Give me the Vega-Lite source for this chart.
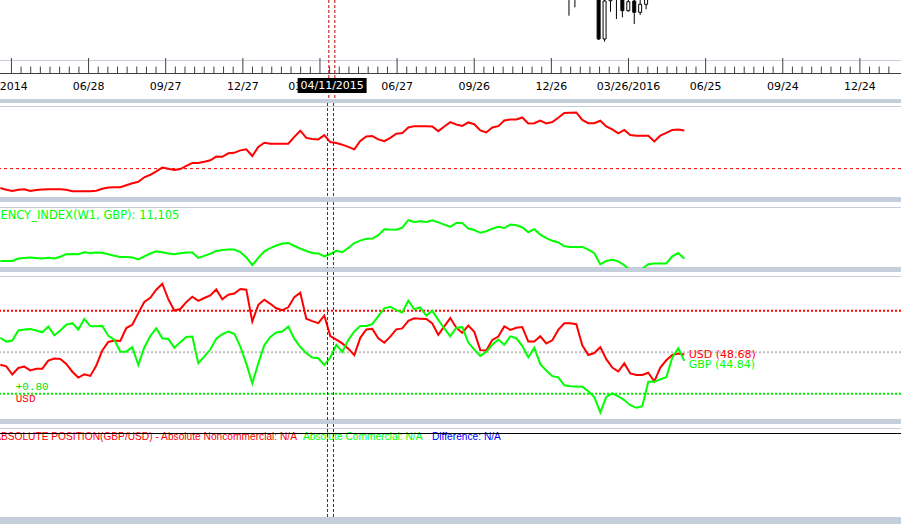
{
"$schema": "https://vega.github.io/schema/vega-lite/v6.json",
"background": "#c4cfdb",
"padding": {"left": 0, "top": 0, "right": 0, "bottom": 6},
"spacing": 4,
"bounds": "flush",
"config": {"view": {"fill": "#ffffff", "stroke": null}},
"resolve": {"scale": {"x": "independent", "y": "independent", "color": "independent"}},
"datasets": {
"one": [{"n": 1}],
"x": [{"date": "2015-04-11", "label": "04/11/2015"}],
"maj": [
{"t": 1396051200000, "label": "03/29/2014"},
{"t": 1403913600000, "label": "06/28"},
{"t": 1411776000000, "label": "09/27"},
{"t": 1419638400000, "label": "12/27"},
{"t": 1427500800000, "label": "03/28/2015"},
{"t": 1435363200000, "label": "06/27"},
{"t": 1443225600000, "label": "09/26"},
{"t": 1451088000000, "label": "12/26"},
{"t": 1458950400000, "label": "03/26/2016"},
{"t": 1466812800000, "label": "06/25"},
{"t": 1474675200000, "label": "09/24"},
{"t": 1482537600000, "label": "12/24"}
],
"min": [
{"t":1397034000000},{"t":1398016800000},{"t":1398999600000},{"t":1399982400000},{"t":1400965200000},{"t":1401948000000},{"t":1402930800000},
{"t":1404896400000},{"t":1405879200000},{"t":1406862000000},{"t":1407844800000},{"t":1408827600000},{"t":1409810400000},{"t":1410793200000},
{"t":1412758800000},{"t":1413741600000},{"t":1414724400000},{"t":1415707200000},{"t":1416690000000},{"t":1417672800000},{"t":1418655600000},
{"t":1420621200000},{"t":1421604000000},{"t":1422586800000},{"t":1423569600000},{"t":1424552400000},{"t":1425535200000},{"t":1426518000000},
{"t":1428483600000},{"t":1429466400000},{"t":1430449200000},{"t":1431432000000},{"t":1432414800000},{"t":1433397600000},{"t":1434380400000},
{"t":1436346000000},{"t":1437328800000},{"t":1438311600000},{"t":1439294400000},{"t":1440277200000},{"t":1441260000000},{"t":1442242800000},
{"t":1444208400000},{"t":1445191200000},{"t":1446174000000},{"t":1447156800000},{"t":1448139600000},{"t":1449122400000},{"t":1450105200000},
{"t":1452070800000},{"t":1453053600000},{"t":1454036400000},{"t":1455019200000},{"t":1456002000000},{"t":1456984800000},{"t":1457967600000},
{"t":1459933200000},{"t":1460916000000},{"t":1461898800000},{"t":1462881600000},{"t":1463864400000},{"t":1464847200000},{"t":1465830000000},
{"t":1467795600000},{"t":1468778400000},{"t":1469761200000},{"t":1470744000000},{"t":1471726800000},{"t":1472709600000},{"t":1473692400000},
{"t":1475658000000},{"t":1476640800000},{"t":1477623600000},{"t":1478606400000},{"t":1479589200000},{"t":1480572000000},{"t":1481554800000},
{"t":1483520400000},{"t":1484503200000},{"t":1485486000000}
],
"ends": [{"date": "2016-05-28", "ccy": "USD", "val": 48.68, "label": "USD (48.68)"}, {"date": "2016-05-28", "ccy": "GBP", "val": 44.84, "label": "GBP (44.84)"}],
"c": [
{"date": "2016-01-16", "open": 1.4400, "high": 1.4420, "low": 1.4093, "close": 1.4265},
{"date": "2016-01-23", "open": 1.4265, "high": 1.4410, "low": 1.4177, "close": 1.4290},
{"date": "2016-01-30", "open": 1.4290, "high": 1.4668, "low": 1.4270, "close": 1.4420},
{"date": "2016-02-06", "open": 1.4420, "high": 1.4600, "low": 1.4400, "close": 1.4490},
{"date": "2016-02-13", "open": 1.4490, "high": 1.4510, "low": 1.4300, "close": 1.4400},
{"date": "2016-02-20", "open": 1.4400, "high": 1.4440, "low": 1.3850, "close": 1.3860},
{"date": "2016-02-27", "open": 1.3860, "high": 1.4262, "low": 1.3833, "close": 1.4240},
{"date": "2016-03-05", "open": 1.4242, "high": 1.4350, "low": 1.4133, "close": 1.4300},
{"date": "2016-03-12", "open": 1.4300, "high": 1.4460, "low": 1.4060, "close": 1.4370},
{"date": "2016-03-19", "open": 1.4370, "high": 1.4380, "low": 1.4077, "close": 1.4143},
{"date": "2016-03-26", "open": 1.4143, "high": 1.4300, "low": 1.4133, "close": 1.4233},
{"date": "2016-04-02", "open": 1.4240, "high": 1.4300, "low": 1.4010, "close": 1.4127},
{"date": "2016-04-09", "open": 1.4127, "high": 1.4260, "low": 1.4100, "close": 1.4207},
{"date": "2016-04-16", "open": 1.4207, "high": 1.4450, "low": 1.4157, "close": 1.4300},
{"date": "2016-04-23", "open": 1.4300, "high": 1.4590, "low": 1.4280, "close": 1.4580},
{"date": "2016-04-30", "open": 1.4580, "high": 1.4770, "low": 1.4460, "close": 1.4500},
{"date": "2016-05-07", "open": 1.4500, "high": 1.4530, "low": 1.4330, "close": 1.4420},
{"date": "2016-05-14", "open": 1.4420, "high": 1.4520, "low": 1.4330, "close": 1.4500},
{"date": "2016-05-21", "open": 1.4500, "high": 1.4690, "low": 1.4400, "close": 1.4600},
{"date": "2016-05-28", "open": 1.4600, "high": 1.4670, "low": 1.4330, "close": 1.4380}
],
"w": [
{"date": "2014-03-22", "u2": 9612, "g3": 10967, "u4": 42.53, "g4": 58.67},
{"date": "2014-03-29", "u2": 9576, "g3": 10967, "u4": 41.51, "g4": 56.39},
{"date": "2014-04-05", "u2": 9552, "g3": 10967, "u4": 36.63, "g4": 57.05},
{"date": "2014-04-12", "u2": 9576, "g3": 11015, "u4": 40.54, "g4": 63.13},
{"date": "2014-04-19", "u2": 9586, "g3": 11025, "u4": 41.39, "g4": 63.61},
{"date": "2014-04-26", "u2": 9552, "g3": 11033, "u4": 39.1, "g4": 63.98},
{"date": "2014-05-03", "u2": 9572, "g3": 11027, "u4": 40.06, "g4": 63.01},
{"date": "2014-05-10", "u2": 9582, "g3": 11017, "u4": 40.12, "g4": 61.99},
{"date": "2014-05-17", "u2": 9586, "g3": 11029, "u4": 44.94, "g4": 65.48},
{"date": "2014-05-24", "u2": 9586, "g3": 11017, "u4": 46.2, "g4": 60.12},
{"date": "2014-05-31", "u2": 9586, "g3": 11051, "u4": 46.02, "g4": 63.07},
{"date": "2014-06-07", "u2": 9576, "g3": 11101, "u4": 42.95, "g4": 66.57},
{"date": "2014-06-14", "u2": 9546, "g3": 11107, "u4": 38.31, "g4": 67.47},
{"date": "2014-06-21", "u2": 9546, "g3": 11101, "u4": 34.82, "g4": 63.67},
{"date": "2014-06-28", "u2": 9546, "g3": 11139, "u4": 36.75, "g4": 69.94},
{"date": "2014-07-05", "u2": 9546, "g3": 11127, "u4": 35.78, "g4": 65.72},
{"date": "2014-07-12", "u2": 9556, "g3": 11135, "u4": 42.05, "g4": 65.6},
{"date": "2014-07-19", "u2": 9596, "g3": 11131, "u4": 51.08, "g4": 65.84},
{"date": "2014-07-26", "u2": 9620, "g3": 11101, "u4": 56.2, "g4": 59.82},
{"date": "2014-08-02", "u2": 9626, "g3": 11069, "u4": 56.99, "g4": 57.59},
{"date": "2014-08-09", "u2": 9626, "g3": 11047, "u4": 56.81, "g4": 50.36},
{"date": "2014-08-16", "u2": 9666, "g3": 11047, "u4": 64.52, "g4": 50.36},
{"date": "2014-08-23", "u2": 9706, "g3": 11037, "u4": 66.51, "g4": 53.07},
{"date": "2014-08-30", "u2": 9736, "g3": 10997, "u4": 73.49, "g4": 42.35},
{"date": "2014-09-06", "u2": 9826, "g3": 11057, "u4": 80.24, "g4": 52.89},
{"date": "2014-09-13", "u2": 9876, "g3": 11115, "u4": 82.71, "g4": 59.76},
{"date": "2014-09-20", "u2": 9946, "g3": 11157, "u4": 87.59, "g4": 64.4},
{"date": "2014-09-27", "u2": 10020, "g3": 11139, "u4": 91.14, "g4": 58.37},
{"date": "2014-10-04", "u2": 9996, "g3": 11115, "u4": 81.93, "g4": 58.01},
{"date": "2014-10-11", "u2": 9972, "g3": 11099, "u4": 75.06, "g4": 52.77},
{"date": "2014-10-18", "u2": 9990, "g3": 11121, "u4": 75.96, "g4": 56.02},
{"date": "2014-10-25", "u2": 10056, "g3": 11137, "u4": 80.12, "g4": 59.22},
{"date": "2014-11-01", "u2": 10112, "g3": 11137, "u4": 83.31, "g4": 59.4},
{"date": "2014-11-08", "u2": 10112, "g3": 11027, "u4": 80.9, "g4": 43.43},
{"date": "2014-11-15", "u2": 10136, "g3": 11067, "u4": 82.59, "g4": 47.35},
{"date": "2014-11-22", "u2": 10166, "g3": 11111, "u4": 84.16, "g4": 51.63},
{"date": "2014-11-29", "u2": 10242, "g3": 11167, "u4": 87.71, "g4": 58.19},
{"date": "2014-12-06", "u2": 10236, "g3": 11185, "u4": 81.81, "g4": 60.9},
{"date": "2014-12-13", "u2": 10306, "g3": 11195, "u4": 84.52, "g4": 62.41},
{"date": "2014-12-20", "u2": 10316, "g3": 11193, "u4": 85.3, "g4": 61.14},
{"date": "2014-12-27", "u2": 10366, "g3": 11145, "u4": 88.01, "g4": 53.43},
{"date": "2015-01-03", "u2": 10386, "g3": 11037, "u4": 87.59, "g4": 43.13},
{"date": "2015-01-10", "u2": 10252, "g3": 10881, "u4": 68.43, "g4": 31.33},
{"date": "2015-01-17", "u2": 10436, "g3": 11027, "u4": 78.49, "g4": 43.37},
{"date": "2015-01-24", "u2": 10520, "g3": 11157, "u4": 81.57, "g4": 54.22},
{"date": "2015-01-31", "u2": 10500, "g3": 11221, "u4": 79.1, "g4": 59.22},
{"date": "2015-02-07", "u2": 10500, "g3": 11275, "u4": 76.39, "g4": 61.87},
{"date": "2015-02-14", "u2": 10500, "g3": 11315, "u4": 75.24, "g4": 62.41},
{"date": "2015-02-21", "u2": 10500, "g3": 11327, "u4": 76.99, "g4": 65.42},
{"date": "2015-02-28", "u2": 10636, "g3": 11265, "u4": 83.13, "g4": 58.07},
{"date": "2015-03-07", "u2": 10760, "g3": 11213, "u4": 85.78, "g4": 53.19},
{"date": "2015-03-14", "u2": 10616, "g3": 11165, "u4": 70.18, "g4": 49.4},
{"date": "2015-03-21", "u2": 10596, "g3": 11127, "u4": 68.67, "g4": 46.87},
{"date": "2015-03-28", "u2": 10586, "g3": 11117, "u4": 67.47, "g4": 46.39},
{"date": "2015-04-04", "u2": 10670, "g3": 11057, "u4": 72.05, "g4": 42.35},
{"date": "2015-04-11", "u2": 10532, "g3": 11105, "u4": 59.7, "g4": 46.81},
{"date": "2015-04-18", "u2": 10512, "g3": 11169, "u4": 57.59, "g4": 54.4},
{"date": "2015-04-25", "u2": 10480, "g3": 11141, "u4": 55.3, "g4": 50.24},
{"date": "2015-05-02", "u2": 10436, "g3": 11227, "u4": 52.17, "g4": 57.41},
{"date": "2015-05-09", "u2": 10386, "g3": 11325, "u4": 48.25, "g4": 62.47},
{"date": "2015-05-16", "u2": 10556, "g3": 11373, "u4": 58.67, "g4": 65.84},
{"date": "2015-05-23", "u2": 10646, "g3": 11409, "u4": 63.67, "g4": 65.84},
{"date": "2015-05-30", "u2": 10652, "g3": 11413, "u4": 64.04, "g4": 66.87},
{"date": "2015-06-06", "u2": 10586, "g3": 11483, "u4": 58.43, "g4": 71.75},
{"date": "2015-06-13", "u2": 10550, "g3": 11601, "u4": 55.72, "g4": 76.39},
{"date": "2015-06-20", "u2": 10616, "g3": 11593, "u4": 59.34, "g4": 77.35},
{"date": "2015-06-27", "u2": 10700, "g3": 11589, "u4": 63.73, "g4": 75.3},
{"date": "2015-07-04", "u2": 10712, "g3": 11633, "u4": 64.34, "g4": 73.86},
{"date": "2015-07-11", "u2": 10826, "g3": 11781, "u4": 68.86, "g4": 80.96},
{"date": "2015-07-18", "u2": 10852, "g3": 11745, "u4": 70.42, "g4": 75.84},
{"date": "2015-07-25", "u2": 10852, "g3": 11759, "u4": 70.18, "g4": 76.99},
{"date": "2015-08-01", "u2": 10852, "g3": 11747, "u4": 70, "g4": 71.99},
{"date": "2015-08-08", "u2": 10846, "g3": 11777, "u4": 67.29, "g4": 74.88},
{"date": "2015-08-15", "u2": 10752, "g3": 11737, "u4": 60.42, "g4": 69.46},
{"date": "2015-08-22", "u2": 10846, "g3": 11693, "u4": 65.54, "g4": 64.28},
{"date": "2015-08-29", "u2": 10932, "g3": 11649, "u4": 70.54, "g4": 59.52},
{"date": "2015-09-05", "u2": 10886, "g3": 11725, "u4": 64.76, "g4": 64.7},
{"date": "2015-09-12", "u2": 10856, "g3": 11725, "u4": 61.63, "g4": 65.06},
{"date": "2015-09-19", "u2": 10926, "g3": 11615, "u4": 66.02, "g4": 55.84},
{"date": "2015-09-26", "u2": 10890, "g3": 11585, "u4": 62.23, "g4": 51.57},
{"date": "2015-10-03", "u2": 10766, "g3": 11529, "u4": 51.27, "g4": 47.83},
{"date": "2015-10-10", "u2": 10726, "g3": 11561, "u4": 51.08, "g4": 50.24},
{"date": "2015-10-17", "u2": 10826, "g3": 11611, "u4": 57.41, "g4": 54.52},
{"date": "2015-10-24", "u2": 10852, "g3": 11651, "u4": 59.46, "g4": 57.65},
{"date": "2015-10-31", "u2": 10966, "g3": 11625, "u4": 65.48, "g4": 54.52},
{"date": "2015-11-07", "u2": 10986, "g3": 11693, "u4": 63.43, "g4": 59.52},
{"date": "2015-11-14", "u2": 10986, "g3": 11681, "u4": 64.7, "g4": 58.43},
{"date": "2015-11-21", "u2": 11026, "g3": 11641, "u4": 65.12, "g4": 53.67},
{"date": "2015-11-28", "u2": 10906, "g3": 11541, "u4": 56.39, "g4": 46.99},
{"date": "2015-12-05", "u2": 10912, "g3": 11601, "u4": 56.39, "g4": 52.65},
{"date": "2015-12-12", "u2": 10962, "g3": 11493, "u4": 59.58, "g4": 42.83},
{"date": "2015-12-19", "u2": 10906, "g3": 11421, "u4": 55.3, "g4": 38.98},
{"date": "2015-12-26", "u2": 10934, "g3": 11369, "u4": 57.17, "g4": 35.66},
{"date": "2016-01-02", "u2": 11020, "g3": 11335, "u4": 63.43, "g4": 34.94},
{"date": "2016-01-09", "u2": 11114, "g3": 11259, "u4": 67.35, "g4": 30.12},
{"date": "2016-01-16", "u2": 11122, "g3": 11247, "u4": 67.41, "g4": 29.58},
{"date": "2016-01-23", "u2": 11126, "g3": 11247, "u4": 66.87, "g4": 29.4},
{"date": "2016-01-30", "u2": 10976, "g3": 11247, "u4": 54.16, "g4": 29.28},
{"date": "2016-02-06", "u2": 10912, "g3": 11193, "u4": 48.37, "g4": 26.57},
{"date": "2016-02-13", "u2": 10912, "g3": 11121, "u4": 49.52, "g4": 23.07},
{"date": "2016-02-20", "u2": 10960, "g3": 10897, "u4": 53.01, "g4": 13.86},
{"date": "2016-02-27", "u2": 10846, "g3": 10965, "u4": 45.84, "g4": 23.13},
{"date": "2016-03-05", "u2": 10786, "g3": 10991, "u4": 40.78, "g4": 25.24},
{"date": "2016-03-12", "u2": 10706, "g3": 10957, "u4": 38.43, "g4": 23.55},
{"date": "2016-03-19", "u2": 10776, "g3": 10881, "u4": 43.31, "g4": 21.27},
{"date": "2016-03-26", "u2": 10672, "g3": 10781, "u4": 37.29, "g4": 18.19},
{"date": "2016-04-02", "u2": 10660, "g3": 10741, "u4": 36.33, "g4": 16.63},
{"date": "2016-04-09", "u2": 10660, "g3": 10811, "u4": 36.33, "g4": 17.59},
{"date": "2016-04-16", "u2": 10660, "g3": 10899, "u4": 37.71, "g4": 32.29},
{"date": "2016-04-23", "u2": 10546, "g3": 10915, "u4": 32.41, "g4": 32.29},
{"date": "2016-04-30", "u2": 10660, "g3": 10915, "u4": 40.84, "g4": 33.73},
{"date": "2016-05-07", "u2": 10716, "g3": 10915, "u4": 45.18, "g4": 34.94},
{"date": "2016-05-14", "u2": 10776, "g3": 11057, "u4": 48.37, "g4": 46.87},
{"date": "2016-05-21", "u2": 10786, "g3": 11127, "u4": 49.22, "g4": 52.41},
{"date": "2016-05-28", "u2": 10766, "g3": 11009, "u4": 48.68, "g4": 44.84}
]
},
"vconcat": [
{
"width": 901, "height": 99,
"layer": [
{"data": {"name": "one"}, "mark": {"type": "rule", "color": "#c5cdd8", "strokeWidth": 1, "clip": true},
 "encoding": {"y": {"datum": 1.3645, "scale": {"domain": [1.3645, 1.425], "range": [60.5, 0], "nice": false, "zero": false}, "axis": null}}},
{"data": {"name": "one"}, "mark": {"type": "rule", "color": "#404040", "strokeWidth": 1, "clip": true},
 "encoding": {"y": {"value": 73.5}}},
{"data": {"name": "maj"}, "mark": {"type": "rule", "color": "#404040", "strokeWidth": 1, "xOffset": 0.2, "clip": true},
 "encoding": {"x": {"field": "t", "type": "temporal", "scale": {"type": "utc", "domain": [1395416160000, 1486237200000], "nice": false}, "axis": null},
  "y": {"value": 58}, "y2": {"value": 73.5}}},
{"data": {"name": "min"}, "mark": {"type": "rule", "color": "#404040", "strokeWidth": 1, "xOffset": 0.2, "clip": true},
 "encoding": {"x": {"field": "t", "type": "temporal", "scale": {"type": "utc", "domain": [1395416160000, 1486237200000], "nice": false}, "axis": null},
  "y": {"value": 66.5}, "y2": {"value": 73.5}}},
{"data": {"name": "maj"}, "transform": [{"filter": "datum.t > 1396051200000"}],
 "mark": {"type": "text", "color": "#000000", "font": "DejaVu Sans", "fontSize": 11, "align": "center", "baseline": "middle", "dx": 0.2, "clip": true},
 "encoding": {"x": {"field": "t", "type": "temporal", "scale": {"type": "utc", "domain": [1395416160000, 1486237200000], "nice": false}, "axis": null},
  "y": {"value": 87.3}, "text": {"field": "label"}}},
{"data": {"name": "maj"}, "transform": [{"filter": "datum.t == 1396051200000"}],
 "mark": {"type": "text", "color": "#000000", "font": "DejaVu Sans", "fontSize": 11, "align": "right", "baseline": "middle", "dx": 16.4, "clip": true},
 "encoding": {"x": {"field": "t", "type": "temporal", "scale": {"type": "utc", "domain": [1395416160000, 1486237200000], "nice": false}, "axis": null},
  "y": {"value": 87.3}, "text": {"field": "label"}}},
{"data": {"name": "c"}, "mark": {"type": "rule", "color": "#000000", "strokeWidth": 1, "clip": true},
 "encoding": {
  "x": {"field": "date", "type": "temporal", "scale": {"type": "utc", "domain": [1395416160000, 1486237200000], "nice": false}, "axis": null},
  "y": {"field": "low", "type": "quantitative", "scale": {"domain": [1.3645, 1.425], "range": [60.5, 0], "nice": false, "zero": false}, "axis": null},
  "y2": {"field": "high"}}},
{"data": {"name": "c"}, "mark": {"type": "bar", "size": 3, "stroke": "#000000", "strokeWidth": 1, "clip": true},
 "encoding": {
  "x": {"field": "date", "type": "temporal", "scale": {"type": "utc", "domain": [1395416160000, 1486237200000], "nice": false}, "axis": null},
  "y": {"field": "open", "type": "quantitative", "scale": {"domain": [1.3645, 1.425], "range": [60.5, 0], "nice": false, "zero": false}, "axis": null},
  "y2": {"field": "close"},
  "fill": {"condition": {"test": "datum.close >= datum.open", "value": "#ffffff"}, "value": "#000000"}}},
{"data": {"name": "x"}, "mark": {"type": "rule", "color": "#c00000", "strokeDash": [3, 2], "strokeWidth": 1, "xOffset": -2.8, "clip": true},
 "encoding": {"x": {"field": "date", "type": "temporal", "scale": {"type": "utc", "domain": [1395416160000, 1486237200000], "nice": false}, "axis": null}}},
{"data": {"name": "x"}, "mark": {"type": "rule", "color": "#c00000", "strokeDash": [3, 2], "strokeWidth": 1, "xOffset": 3.2, "clip": true},
 "encoding": {"x": {"field": "date", "type": "temporal", "scale": {"type": "utc", "domain": [1395416160000, 1486237200000], "nice": false}, "axis": null}}},
{"data": {"name": "x"}, "mark": {"type": "rect", "color": "#000000", "xOffset": -34, "x2Offset": 35, "clip": true},
 "encoding": {"x": {"field": "date", "type": "temporal", "scale": {"type": "utc", "domain": [1395416160000, 1486237200000], "nice": false}, "axis": null},
  "x2": {"field": "date"}, "y": {"value": 78}, "y2": {"value": 93}}},
{"data": {"name": "x"}, "mark": {"type": "text", "color": "#ffffff", "font": "DejaVu Sans", "fontSize": 11, "align": "center", "baseline": "middle", "dx": 0.5, "clip": true},
 "encoding": {"x": {"field": "date", "type": "temporal", "scale": {"type": "utc", "domain": [1395416160000, 1486237200000], "nice": false}, "axis": null},
  "y": {"value": 86}, "text": {"field": "label"}}}
]
},
{
"width": 901, "height": 95,
"layer": [
{"data": {"name": "one"}, "mark": {"type": "rule", "color": "#c5cdd8", "strokeWidth": 1, "clip": true},
 "encoding": {"y": {"datum": 11246, "scale": {"domain": [9420, 11246], "range": [94.5, 3.5], "nice": false, "zero": false}, "axis": null}}},
{"data": {"name": "one"}, "mark": {"type": "rule", "color": "#c5cdd8", "strokeWidth": 1, "clip": true},
 "encoding": {"y": {"datum": 9420, "scale": {"domain": [9420, 11246], "range": [94.5, 3.5], "nice": false, "zero": false}, "axis": null}}},
{"data": {"name": "one"}, "mark": {"type": "rule", "color": "#ff0000", "strokeDash": [3, 3], "strokeWidth": 1, "clip": true},
 "encoding": {"y": {"datum": 10000, "scale": {"domain": [9420, 11246], "range": [94.5, 3.5], "nice": false, "zero": false}, "axis": null}}},
{"data": {"name": "w"}, "mark": {"type": "line", "color": "#ff0000", "strokeWidth": 2, "clip": true},
 "encoding": {"x": {"field": "date", "type": "temporal", "scale": {"type": "utc", "domain": [1395416160000, 1486237200000], "nice": false}, "axis": null},
  "y": {"field": "u2", "type": "quantitative", "scale": {"domain": [9420, 11246], "range": [94.5, 3.5], "nice": false, "zero": false}, "axis": null}}},
{"data": {"name": "x"}, "mark": {"type": "rule", "color": "#c00000", "strokeDash": [3, 2], "strokeWidth": 1, "xOffset": -2.8, "clip": true},
 "encoding": {"x": {"field": "date", "type": "temporal", "scale": {"type": "utc", "domain": [1395416160000, 1486237200000], "nice": false}, "axis": null}}},
{"data": {"name": "x"}, "mark": {"type": "rule", "color": "#c00000", "strokeDash": [3, 2], "strokeWidth": 1, "xOffset": 3.2, "clip": true},
 "encoding": {"x": {"field": "date", "type": "temporal", "scale": {"type": "utc", "domain": [1395416160000, 1486237200000], "nice": false}, "axis": null}}}
]
},
{
"width": 901, "height": 66,
"layer": [
{"data": {"name": "one"}, "mark": {"type": "rule", "color": "#c5cdd8", "strokeWidth": 1, "clip": true},
 "encoding": {"y": {"datum": 12035, "scale": {"domain": [10835, 12035], "range": [65.5, 5.5], "nice": false, "zero": false}, "axis": null}}},
{"data": {"name": "one"}, "mark": {"type": "rule", "color": "#c5cdd8", "strokeWidth": 1, "clip": true},
 "encoding": {"y": {"datum": 10835, "scale": {"domain": [10835, 12035], "range": [65.5, 5.5], "nice": false, "zero": false}, "axis": null}}},
{"data": {"name": "w"}, "mark": {"type": "line", "color": "#00ff00", "strokeWidth": 2, "clip": true},
 "encoding": {"x": {"field": "date", "type": "temporal", "scale": {"type": "utc", "domain": [1395416160000, 1486237200000], "nice": false}, "axis": null},
  "y": {"field": "g3", "type": "quantitative", "scale": {"domain": [10835, 12035], "range": [65.5, 5.5], "nice": false, "zero": false}, "axis": null}}},
{"data": {"name": "one"}, "mark": {"type": "text", "text": "CURRENCY_INDEX(W1, GBP): 11,105", "color": "#00ff00", "font": "DejaVu Sans", "fontSize": 11.5, "align": "left", "baseline": "alphabetic", "clip": true},
 "encoding": {"x": {"value": -32}, "y": {"value": 17}}},
{"data": {"name": "x"}, "mark": {"type": "rule", "color": "#c00000", "strokeDash": [3, 2], "strokeWidth": 1, "xOffset": -2.8, "clip": true},
 "encoding": {"x": {"field": "date", "type": "temporal", "scale": {"type": "utc", "domain": [1395416160000, 1486237200000], "nice": false}, "axis": null}}},
{"data": {"name": "x"}, "mark": {"type": "rule", "color": "#c00000", "strokeDash": [3, 2], "strokeWidth": 1, "xOffset": 3.2, "clip": true},
 "encoding": {"x": {"field": "date", "type": "temporal", "scale": {"type": "utc", "domain": [1395416160000, 1486237200000], "nice": false}, "axis": null}}}
]
},
{
"width": 901, "height": 148,
"layer": [
{"data": {"name": "one"}, "mark": {"type": "rule", "color": "#c5cdd8", "strokeWidth": 1, "clip": true},
 "encoding": {"y": {"datum": 95.5, "scale": {"domain": [9.6, 95.5], "range": [147.5, 4.5], "nice": false, "zero": false}, "axis": null}}},
{"data": {"name": "one"}, "mark": {"type": "rule", "color": "#c5cdd8", "strokeWidth": 1, "clip": true},
 "encoding": {"y": {"datum": 9.6, "scale": {"domain": [9.6, 95.5], "range": [147.5, 4.5], "nice": false, "zero": false}, "axis": null}}},
{"data": {"name": "one"}, "mark": {"type": "rule", "color": "#ff0000", "strokeDash": [2, 2], "strokeWidth": 2, "clip": true},
 "encoding": {"y": {"datum": 75, "scale": {"domain": [9.6, 95.5], "range": [147.5, 4.5], "nice": false, "zero": false}, "axis": null}}},
{"data": {"name": "one"}, "mark": {"type": "rule", "color": "#c0c0c0", "strokeDash": [2, 2], "strokeWidth": 2, "clip": true},
 "encoding": {"y": {"datum": 50, "scale": {"domain": [9.6, 95.5], "range": [147.5, 4.5], "nice": false, "zero": false}, "axis": null}}},
{"data": {"name": "one"}, "mark": {"type": "rule", "color": "#00ee00", "strokeDash": [2, 2], "strokeWidth": 2, "clip": true},
 "encoding": {"y": {"datum": 25, "scale": {"domain": [9.6, 95.5], "range": [147.5, 4.5], "nice": false, "zero": false}, "axis": null}}},
{"data": {"name": "w"}, "mark": {"type": "line", "color": "#ff0000", "strokeWidth": 2, "clip": true},
 "encoding": {"x": {"field": "date", "type": "temporal", "scale": {"type": "utc", "domain": [1395416160000, 1486237200000], "nice": false}, "axis": null},
  "y": {"field": "u4", "type": "quantitative", "scale": {"domain": [9.6, 95.5], "range": [147.5, 4.5], "nice": false, "zero": false}, "axis": null}}},
{"data": {"name": "w"}, "mark": {"type": "line", "color": "#00ff00", "strokeWidth": 2, "clip": true},
 "encoding": {"x": {"field": "date", "type": "temporal", "scale": {"type": "utc", "domain": [1395416160000, 1486237200000], "nice": false}, "axis": null},
  "y": {"field": "g4", "type": "quantitative", "scale": {"domain": [9.6, 95.5], "range": [147.5, 4.5], "nice": false, "zero": false}, "axis": null}}},
{"data": {"name": "one"}, "mark": {"type": "text", "text": "+0.80", "color": "#00e000", "font": "Liberation Mono", "fontSize": 11, "align": "left", "baseline": "middle", "clip": true},
 "encoding": {"x": {"value": 15.7}, "y": {"value": 115.3}}},
{"data": {"name": "one"}, "mark": {"type": "text", "text": "USD", "color": "#ff0000", "font": "Liberation Mono", "fontSize": 11, "align": "left", "baseline": "middle", "clip": true},
 "encoding": {"x": {"value": 15.7}, "y": {"value": 127}}},
{"data": {"name": "ends"}, "transform": [{"filter": "datum.ccy == 'USD'"}],
 "mark": {"type": "text", "color": "#ff0000", "font": "DejaVu Sans", "fontSize": 11, "align": "left", "baseline": "middle", "dx": 4.4, "dy": 1, "clip": true},
 "encoding": {"x": {"field": "date", "type": "temporal", "scale": {"type": "utc", "domain": [1395416160000, 1486237200000], "nice": false}, "axis": null},
  "y": {"field": "val", "type": "quantitative", "scale": {"domain": [9.6, 95.5], "range": [147.5, 4.5], "nice": false, "zero": false}, "axis": null},
  "text": {"field": "label"}}},
{"data": {"name": "ends"}, "transform": [{"filter": "datum.ccy == 'GBP'"}],
 "mark": {"type": "text", "color": "#00ff00", "font": "DejaVu Sans", "fontSize": 11, "align": "left", "baseline": "middle", "dx": 4.4, "dy": 4, "clip": true},
 "encoding": {"x": {"field": "date", "type": "temporal", "scale": {"type": "utc", "domain": [1395416160000, 1486237200000], "nice": false}, "axis": null},
  "y": {"field": "val", "type": "quantitative", "scale": {"domain": [9.6, 95.5], "range": [147.5, 4.5], "nice": false, "zero": false}, "axis": null},
  "text": {"field": "label"}}},
{"data": {"name": "x"}, "mark": {"type": "rule", "color": "#c00000", "strokeDash": [3, 2], "strokeWidth": 1, "xOffset": -2.8, "clip": true},
 "encoding": {"x": {"field": "date", "type": "temporal", "scale": {"type": "utc", "domain": [1395416160000, 1486237200000], "nice": false}, "axis": null}}},
{"data": {"name": "x"}, "mark": {"type": "rule", "color": "#c00000", "strokeDash": [3, 2], "strokeWidth": 1, "xOffset": 3.2, "clip": true},
 "encoding": {"x": {"field": "date", "type": "temporal", "scale": {"type": "utc", "domain": [1395416160000, 1486237200000], "nice": false}, "axis": null}}}
]
},
{
"width": 901, "height": 94,
"layer": [
{"data": {"name": "one"}, "mark": {"type": "rule", "color": "#c5cdd8", "strokeWidth": 1, "clip": true},
 "encoding": {"y": {"datum": 1, "scale": {"domain": [-16.8, 1], "range": [93.5, 4.5], "nice": false, "zero": false}, "axis": null}}},
{"data": {"name": "one"}, "mark": {"type": "rule", "color": "#c5cdd8", "strokeWidth": 1, "clip": true},
 "encoding": {"y": {"datum": -16.8, "scale": {"domain": [-16.8, 1], "range": [93.5, 4.5], "nice": false, "zero": false}, "axis": null}}},
{"data": {"name": "one"}, "mark": {"type": "text", "text": "ABSOLUTE POSITION(GBP/USD) -  Absolute Noncommercial: N/A", "color": "#ff0000", "font": "Liberation Sans", "fontSize": 10.2, "align": "right", "baseline": "alphabetic", "clip": true},
 "encoding": {"x": {"value": 297}, "y": {"value": 16}}},
{"data": {"name": "one"}, "mark": {"type": "text", "text": "Absolute Commercial: N/A", "color": "#00ff00", "font": "Liberation Sans", "fontSize": 10.2, "align": "left", "baseline": "alphabetic", "clip": true},
 "encoding": {"x": {"value": 303}, "y": {"value": 16}}},
{"data": {"name": "one"}, "mark": {"type": "text", "text": "Difference: N/A", "color": "#0000ff", "font": "Liberation Sans", "fontSize": 10.2, "align": "left", "baseline": "alphabetic", "clip": true},
 "encoding": {"x": {"value": 432}, "y": {"value": 16}}},
{"data": {"name": "one"}, "mark": {"type": "rule", "color": "#000000", "strokeWidth": 1, "clip": true},
 "encoding": {"y": {"datum": 0, "scale": {"domain": [-16.8, 1], "range": [93.5, 4.5], "nice": false, "zero": false}, "axis": null}}},
{"data": {"name": "x"}, "mark": {"type": "rule", "color": "#c00000", "strokeDash": [3, 2], "strokeWidth": 1, "xOffset": -2.8, "clip": true},
 "encoding": {"x": {"field": "date", "type": "temporal", "scale": {"type": "utc", "domain": [1395416160000, 1486237200000], "nice": false}, "axis": null}}},
{"data": {"name": "x"}, "mark": {"type": "rule", "color": "#c00000", "strokeDash": [3, 2], "strokeWidth": 1, "xOffset": 3.2, "clip": true},
 "encoding": {"x": {"field": "date", "type": "temporal", "scale": {"type": "utc", "domain": [1395416160000, 1486237200000], "nice": false}, "axis": null}}}
]
}
]
}
